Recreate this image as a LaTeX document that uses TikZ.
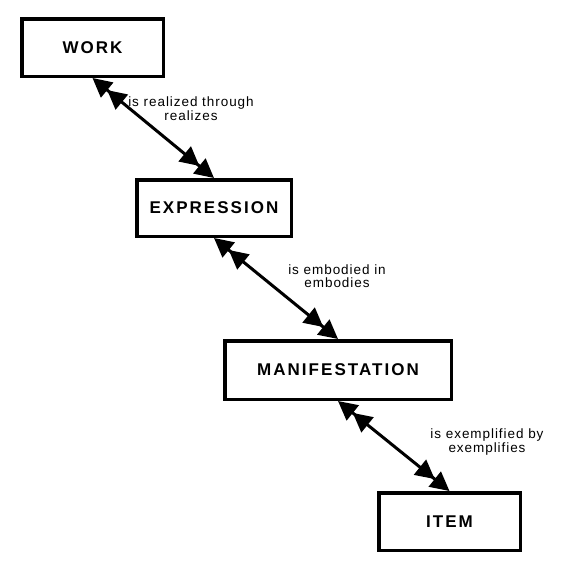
\documentclass[tikz,border=0pt]{standalone}
\usepackage{fontspec}
\setmainfont{Liberation Sans}
\newfontfamily\boxfont[LetterSpace=12]{Liberation Sans}
\newfontfamily\labfont[LetterSpace=7]{Liberation Sans}
\usetikzlibrary{arrows.meta}
\begin{document}
\begin{tikzpicture}[x=1pt,y=-1pt,
  entity/.style={draw=black, line width=3.5pt, fill=white, inner sep=0pt,
    font=\boxfont\bfseries\fontsize{17}{18}\selectfont},
  rel/.style={line width=3pt,
    {Triangle[length=19pt,width=19pt]Triangle[length=19pt,width=19pt]}-{Triangle[length=19pt,width=19pt]Triangle[length=19pt,width=19pt]}},
  rellabel/.style={align=center, inner sep=0pt,
    font=\labfont\fontsize{13.5}{13.5}\selectfont}]
\useasboundingbox (0,0) rectangle (585,574);
\node[entity, minimum width=141.5pt, minimum height=57.5pt] (work) at (92.5,47.5) {WORK};
\node[entity, minimum width=154.5pt, minimum height=56.5pt] (expr) at (214,208) {EXPRESSION};
\node[entity, minimum width=226.5pt, minimum height=58.5pt] (manif) at (338,370) {MANIFESTATION};
\node[entity, minimum width=141.5pt, minimum height=57.5pt] (item) at (449.5,521.5) {ITEM};
\draw[rel] (work.south) -- (expr.north);
\draw[rel] (expr.south) -- (manif.north);
\draw[rel] (manif.south) -- (item.north);
\node[rellabel] (l1) at (191,108.5) {is realized through\\realizes};
\node[rellabel] (l2) at (337,276) {is embodied in\\embodies};
\node[rellabel] (l3) at (487,442) {is exemplified by\\exemplifies};
\end{tikzpicture}
\end{document}
